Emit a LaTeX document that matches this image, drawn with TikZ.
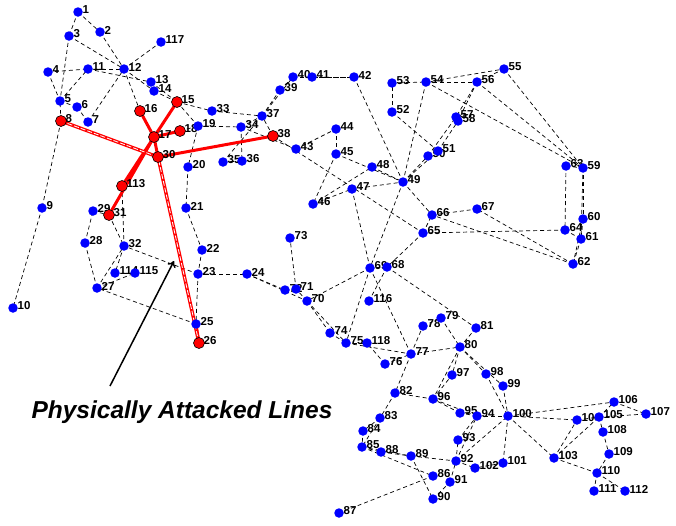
\documentclass[tikz,border=0pt]{standalone}
\usepackage{fontspec}
\setmainfont{Liberation Sans}
\usetikzlibrary{arrows.meta}
\begin{document}
\begin{tikzpicture}[x=1pt,y=-1pt,
  edge/.style={draw=black, line width=0.7pt, dash pattern=on 4pt off 3pt},
  redge/.style={draw=red, line width=3pt},
  aedge/.style={draw=red, line width=3.4pt},
  awhite/.style={draw=white, line width=0.8pt, dash pattern=on 5pt off 2pt},
  bdot/.style={circle, fill=blue, inner sep=0pt, minimum size=9.5pt},
  rdot/.style={circle, fill=red, draw=black, line width=0.6pt, inner sep=0pt, minimum size=11pt},
  lab/.style={anchor=west, inner sep=0pt, font=\fontsize{11.5}{12}\selectfont\bfseries},
  note/.style={inner sep=0pt, font=\fontsize{24.5}{26}\selectfont\bfseries\itshape},
  pointer/.style={draw=black, line width=1.5pt, -{To[length=6pt,width=9pt]}}
  ]
\path[fill=white] (0,0) rectangle (676,525);
\useasboundingbox (0,0) rectangle (676,525);
\foreach \i/\x/\y in {1/78/12,2/100/32,3/69/36,4/48/72,5/60/101,6/77/107,7/88/122,8/61/121,9/42/208,10/13/308,
11/88/69,12/124/69,13/151/82,14/154/91,15/177/102,16/140/111,17/154/137,18/180/131,19/198/126,20/188/167,
21/186/208,22/202/250,23/198/274,24/247/274,25/196/324,26/199/343,27/97/288,28/85/243,29/93/211,30/158/157,
31/109/215,32/124/246,33/212/111,34/241/127,35/223/162,36/242/161,37/262/116,38/273/136,39/280/90,40/293/77,
41/312/77,42/354/77,43/296/149,44/336/129,45/336/154,46/313/204,47/352/189,48/372/167,49/403/182,50/428/156,
51/438/151,52/392/112,53/392/83,54/426/82,55/504/69,56/477/82,57/456/117,58/458/121,59/583/168,60/583/219,
61/581/239,62/573/264,63/566/166,64/565/230,65/423/233,66/432/215,67/477/209,68/387/267,69/370/268,70/307/301,
71/296/289,72/285/290,73/290/238,74/330/333,75/346/343,76/385/364,77/411/354,78/423/326,79/441/318,80/460/347,
81/476/328,82/395/393,83/380/418,84/363/431,85/362/447,86/433/476,87/339/513,88/381/452,89/411/456,90/433/499,
91/450/482,92/456/461,93/458/440,94/477/416,95/460/413,96/433/399,97/452/375,98/486/374,99/503/386,100/508/416,
101/503/463,102/475/468,103/554/458,104/577/420,105/599/417,106/614/402,107/646/414,108/603/432,109/609/454,110/597/473,
111/594/491,112/625/491,113/122/186,114/115/273,115/135/273,116/369/301,117/161/42,118/367/343}
  \coordinate (n\i) at (\x,\y);
% dashed lines
\foreach \a/\b in {1/2,1/3,4/5,3/5,5/6,6/7,8/9,8/5,9/10,4/11,5/11,11/12,2/12,3/12,7/12,11/13,12/14,13/15,14/15,12/16,
18/19,19/20,15/19,20/21,21/22,22/23,23/24,23/25,25/27,27/28,28/29,29/31,23/32,31/32,27/32,15/33,19/34,35/36,35/37,33/37,
34/36,34/37,38/37,37/39,37/40,39/40,40/41,40/42,41/42,43/44,34/43,44/45,45/46,46/47,46/48,47/49,42/49,45/49,48/49,49/50,
49/51,51/52,52/53,53/54,49/54,54/55,54/56,55/56,56/57,50/57,56/58,51/58,54/59,56/59,55/59,59/60,59/61,60/61,60/62,61/62,
63/59,63/64,64/61,38/65,64/65,49/66,62/66,62/67,65/66,66/67,65/68,47/69,49/69,68/69,69/70,24/70,70/71,24/72,71/72,71/73,
70/74,70/75,69/75,74/75,76/77,69/77,75/77,77/78,78/79,77/80,79/80,68/81,81/80,77/82,82/83,83/84,83/85,84/85,85/86,86/87,
85/88,85/89,88/89,89/90,90/91,89/92,91/92,92/93,92/94,93/94,94/95,80/96,82/96,94/96,80/97,80/98,80/99,92/100,94/100,95/96,
96/97,98/100,99/100,100/101,92/102,101/102,100/103,100/104,103/104,103/105,100/106,104/105,105/106,105/107,105/108,106/107,
108/109,103/110,109/110,110/111,110/112,32/113,32/114,27/115,114/115,68/116,12/117,75/118,76/118}
  \draw[edge] (n\a) -- (n\b);
% red lines
\foreach \a/\b in {15/17,16/17,17/18,17/30,30/38,17/31,17/113,25/26}
  \draw[redge] (n\a) -- (n\b);
% physically attacked lines
\foreach \a/\b in {8/30,26/30}{
  \draw[aedge] (n\a) -- (n\b);
  \draw[awhite] (n\a) -- (n\b);
}
% labels
\foreach \i in {1,...,118}
  \node[lab] (l\i) at ([shift={(4.5,-2)}]n\i) {\i};
% dots
\foreach \i in {1,...,7,9,10,11,12,13,14,19,20,21,22,23,24,25,27,28,29,32,33,34,35,36,37,39,40,41,42,43,44,45,46,47,48,49,50,
51,52,53,54,55,56,57,58,59,60,61,62,63,64,65,66,67,68,69,70,71,72,73,74,75,76,77,78,79,80,81,82,83,84,85,86,87,88,89,90,
91,92,93,94,95,96,97,98,99,100,101,102,103,104,105,106,107,108,109,110,111,112,114,115,116,117,118}
  \node[bdot] (d\i) at (n\i) {};
\foreach \i in {8,15,16,17,18,26,30,31,38,113}
  \node[rdot] (d\i) at (n\i) {};
% annotation
\node[note] (txt) at (182,412) {Physically Attacked Lines};
\coordinate (arrtail) at (110,386);
\coordinate (arrtip) at (174,261);
\draw[pointer] (arrtail) -- (arrtip);
\end{tikzpicture}
\end{document}
